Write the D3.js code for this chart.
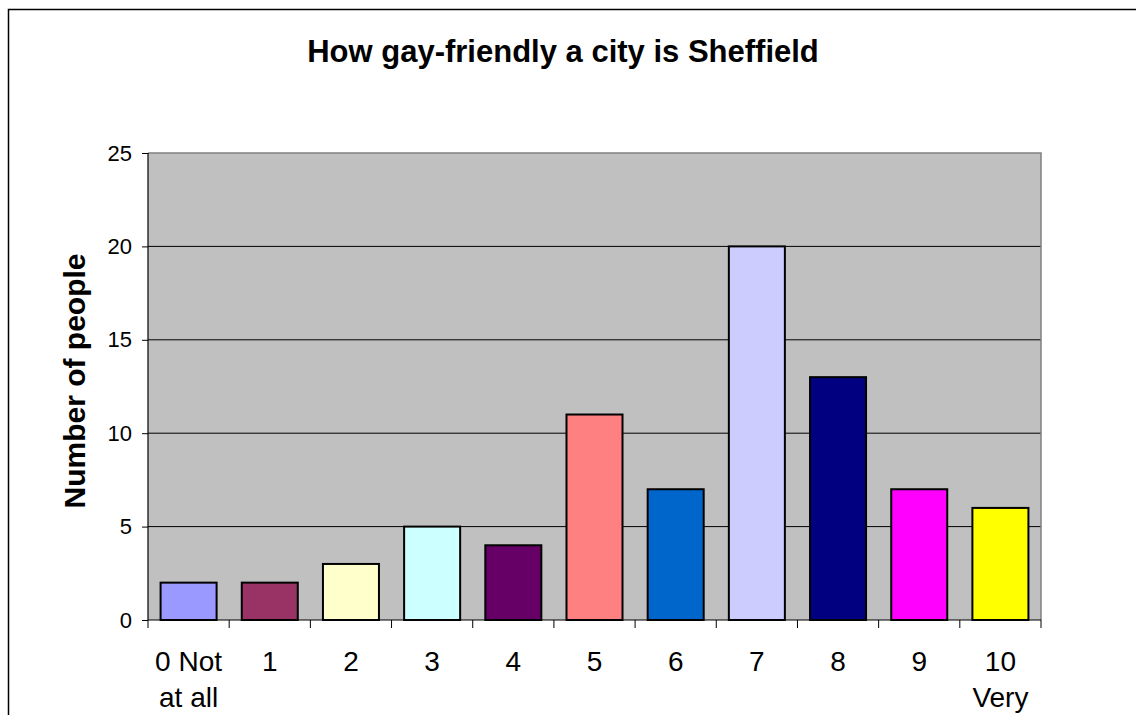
<!DOCTYPE html>
<html><head><meta charset="utf-8">
<script src="https://cdn.jsdelivr.net/npm/d3@7"></script>
<style>body{margin:0;background:#fff}svg{display:block;font-family:"Liberation Sans",Arial,sans-serif}</style>
</head><body><svg id="c" width="1136" height="715"></svg>
<script>
const categories = ["0 Not|at all","1","2","3","4","5","6","7","8","9","10|Very"];
const values = [2,2,3,5,4,11,7,20,13,7,6];
const colors = ["#9999FF","#993366","#FFFFCC","#CCFFFF","#660066","#FF8080","#0066CC","#CCCCFF","#000080","#FF00FF","#FFFF00"];
const yTicks = [0,5,10,15,20,25];
const title = "How gay-friendly a city is Sheffield";
const yTitle = "Number of people";

const svg = d3.select("#c");
const L=148,R=1041,T=153,B=620;
svg.append("rect").attr("x",8.5).attr("y",9.5).attr("width",1140).attr("height",720).attr("fill","none").attr("stroke","#000").attr("stroke-width",1.5);

const x = d3.scaleBand().domain(d3.range(categories.length)).range([L,R]).paddingInner(0.31).paddingOuter(0.155);
const xb = d3.scaleLinear().domain([0,categories.length]).range([L,R]);
const y = d3.scaleLinear().domain([0,25]).range([B,T]);

svg.append("rect").attr("x",L).attr("y",T).attr("width",R-L).attr("height",B-T).attr("fill","#C0C0C0");
svg.append("g").selectAll("line").data(yTicks.filter(d=>d>0&&d<25)).join("line")
  .attr("x1",L).attr("x2",R).attr("y1",d=>y(d)).attr("y2",d=>y(d)).attr("stroke","#000").attr("stroke-width",1);
svg.append("path").attr("d",`M${L},${T}H${R}V${B}`).attr("fill","none").attr("stroke","#808080").attr("stroke-width",1.5);

svg.append("g").selectAll("rect").data(values).join("rect")
  .attr("x",(d,i)=>x(i)).attr("width",x.bandwidth())
  .attr("y",d=>y(d)).attr("height",d=>B-y(d))
  .attr("fill",(d,i)=>colors[i]).attr("stroke","#000").attr("stroke-width",2);

// y axis
const ya = svg.append("g").attr("transform",`translate(${L},0)`).call(d3.axisLeft(y).tickValues(yTicks).tickSize(6).tickPadding(10));
ya.attr("font-size",null).attr("font-family",null);
ya.select(".domain").attr("stroke","#000").attr("stroke-width",1.2).attr("d",`M0,${T}V${B}`);
ya.selectAll("text").style("font-size","22px").attr("fill","#000");
ya.selectAll("line").attr("stroke","#000");

// x axis
const xa = svg.append("g").attr("transform",`translate(0,${B})`);
xa.append("line").attr("x1",L).attr("x2",R).attr("stroke","#000").attr("stroke-width",1.2);
xa.selectAll("line.t").data(d3.range(categories.length+1)).join("line").attr("class","t")
  .attr("x1",d=>xb(d)).attr("x2",d=>xb(d)).attr("y1",0).attr("y2",8).attr("stroke","#000");
const lab = svg.append("g").selectAll("text").data(categories).join("text")
  .attr("text-anchor","middle").style("font-size","28px").attr("fill","#000");
lab.each(function(d,i){
  const parts=d.split("|");
  parts.forEach((p,j)=>d3.select(this).append("tspan").attr("x",x(i)+x.bandwidth()/2).attr("y",671+j*36).text(p));
});

svg.append("text").attr("x",563).attr("y",62).attr("text-anchor","middle").style("font-size","31px").attr("font-weight","bold").text(title);
svg.append("text").attr("transform",`translate(85,${381}) rotate(-90)`).attr("text-anchor","middle").style("font-size","30px").attr("font-weight","bold").text(yTitle);
</script></body></html>
